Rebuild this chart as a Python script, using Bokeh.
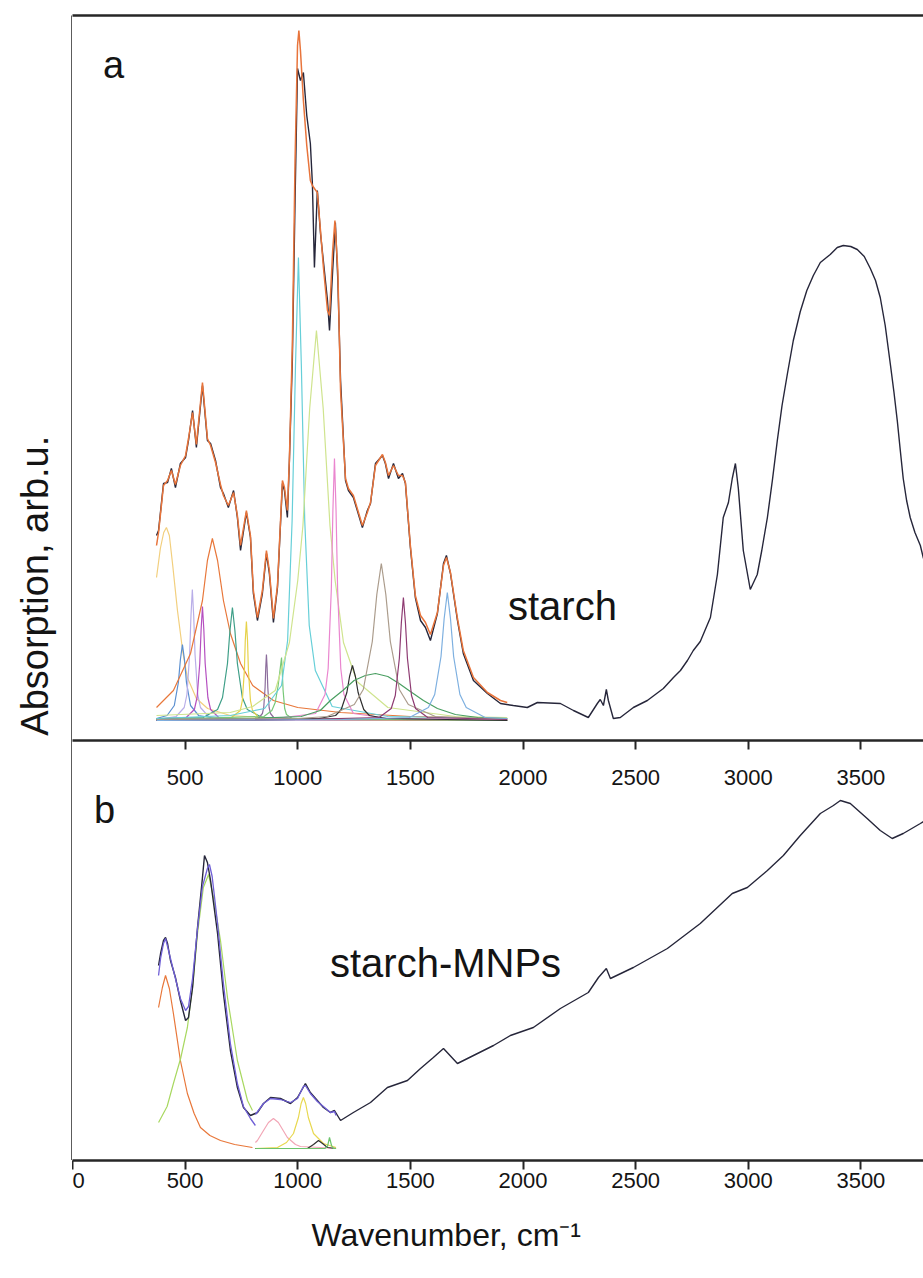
from math import pi
from bokeh.plotting import figure
from bokeh.layouts import row, column
from bokeh.models import Range1d, LinearAxis, FixedTicker, Label, Title
from bokeh.embed import file_html
from bokeh.resources import INLINE

# ---------------- data: panel a (starch) ----------------
a_black_wn = [373, 382, 404, 422, 439, 457, 479, 502, 515, 533, 550, 577, 599, 613, 635, 657, 670, 692, 715, 732,
              746, 772, 790, 803, 821, 843, 861, 874, 892, 910, 932, 941, 954, 963, 976, 988, 999, 1012, 1025, 1040,
              1056, 1065, 1074, 1087, 1101, 1132, 1141, 1155, 1167, 1178, 1190, 1212, 1225, 1247, 1287, 1309, 1323,
              1345, 1376, 1389, 1403, 1425, 1447, 1465, 1478, 1500, 1522, 1545, 1567, 1589, 1620, 1647, 1660, 1678,
              1709, 1735, 1780, 1842, 1900, 1957, 2019, 2064, 2166, 2224, 2290, 2330, 2343, 2357, 2370, 2379, 2401,
              2432, 2490, 2552, 2623, 2668, 2699, 2730, 2756, 2787, 2832, 2863, 2889, 2912, 2929, 2943, 2956, 2978,
              3009, 3040, 3060, 3085, 3107, 3129, 3150, 3174, 3200, 3231, 3260, 3289, 3320, 3364, 3395, 3422, 3455,
              3484, 3515, 3542, 3565, 3586, 3608, 3631, 3647, 3662, 3675, 3688, 3703, 3719, 3740, 3764, 3778]
a_black_ab = [1.85, 1.90, 2.37, 2.38, 2.52, 2.33, 2.57, 2.63, 2.80, 3.10, 2.73, 3.35, 2.80, 2.77, 2.60, 2.33, 2.27,
              2.13, 2.30, 2.03, 1.70, 2.08, 1.83, 1.27, 1.00, 1.27, 1.67, 1.47, 0.98, 1.33, 2.37, 2.30, 2.03, 2.60,
              3.60, 5.20, 6.52, 6.40, 6.48, 6.05, 5.77, 5.37, 4.53, 5.30, 4.87, 4.20, 3.90, 4.50, 4.98, 4.40, 3.40,
              2.40, 2.30, 2.23, 1.93, 2.10, 2.17, 2.57, 2.65, 2.57, 2.42, 2.57, 2.42, 2.47, 2.37, 1.73, 1.23, 1.00,
              0.93, 0.80, 1.07, 1.57, 1.65, 1.47, 1.00, 0.67, 0.40, 0.27, 0.17, 0.15, 0.13, 0.18, 0.17, 0.10, 0.03,
              0.17, 0.21, 0.15, 0.31, 0.20, 0.02, 0.03, 0.13, 0.20, 0.32, 0.43, 0.50, 0.60, 0.70, 0.79, 1.03, 1.46,
              2.03, 2.18, 2.42, 2.57, 2.32, 1.70, 1.31, 1.46, 1.70, 2.03, 2.40, 2.80, 3.15, 3.47, 3.80, 4.09, 4.30,
              4.45, 4.58, 4.66, 4.73, 4.75, 4.74, 4.71, 4.64, 4.52, 4.40, 4.23, 3.95, 3.56, 3.28, 2.99, 2.70, 2.42,
              2.20, 2.03, 1.88, 1.75, 1.62]

a_fit_wn = [373, 382, 404, 422, 439, 457, 479, 502, 515, 533, 550, 577, 599, 613, 635, 657, 670, 692, 715, 732, 746,
            772, 790, 803, 821, 843, 861, 874, 892, 910, 932, 941, 954, 963, 976, 988, 999, 1005, 1012, 1025, 1040,
            1056, 1065, 1074, 1087, 1101, 1114, 1132, 1141, 1155, 1165, 1178, 1190, 1212, 1225, 1247, 1287, 1309,
            1323, 1345, 1376, 1389, 1403, 1425, 1447, 1465, 1478, 1500, 1522, 1545, 1567, 1589, 1620, 1647, 1660,
            1678, 1709, 1735, 1780, 1842, 1900, 1930]
a_fit_ab = [1.75, 1.88, 2.35, 2.40, 2.50, 2.36, 2.55, 2.65, 2.82, 3.08, 2.76, 3.38, 2.82, 2.75, 2.58, 2.36, 2.25,
            2.15, 2.28, 2.05, 1.75, 2.10, 1.85, 1.30, 1.03, 1.30, 1.70, 1.50, 1.02, 1.35, 2.40, 2.33, 2.10, 2.62,
            3.75, 5.60, 6.75, 6.90, 6.70, 6.20, 5.75, 5.40, 5.35, 5.32, 5.28, 4.90, 4.53, 4.10, 4.05, 4.70, 5.00,
            4.50, 3.30, 2.42, 2.32, 2.25, 1.95, 2.08, 2.18, 2.55, 2.66, 2.58, 2.45, 2.55, 2.45, 2.45, 2.38, 1.75,
            1.25, 1.05, 0.98, 0.86, 1.08, 1.55, 1.63, 1.48, 1.02, 0.70, 0.43, 0.28, 0.20, 0.18]

# fitted components, panel a
a_p417_wn = [373, 390, 405, 417, 430, 445, 466, 490, 510, 550, 600, 700, 900, 1300, 1930]
a_p417_ab = [1.43, 1.72, 1.88, 1.93, 1.85, 1.55, 1.10, 0.68, 0.43, 0.22, 0.12, 0.05, 0.02, 0.01, 0.0]
a_p488_wn = [373, 420, 452, 470, 479, 488, 497, 506, 524, 560, 640, 900, 1930]
a_p488_ab = [0.02, 0.05, 0.15, 0.38, 0.61, 0.76, 0.61, 0.38, 0.15, 0.05, 0.02, 0.01, 0.0]
a_p532_wn = [373, 460, 496, 508, 520, 526, 532, 538, 544, 556, 568, 604, 700, 1930]
a_p532_ab = [0.01, 0.04, 0.13, 0.26, 0.66, 1.05, 1.31, 1.05, 0.66, 0.26, 0.13, 0.04, 0.01, 0.0]
a_p577_wn = [373, 505, 541, 553, 565, 571, 577, 583, 589, 601, 613, 649, 750, 1930]
a_p577_ab = [0.01, 0.03, 0.11, 0.23, 0.57, 0.91, 1.14, 0.91, 0.57, 0.23, 0.11, 0.03, 0.01, 0.0]
a_p621_wn = [373, 448, 524, 577, 599, 621, 644, 670, 701, 746, 800, 892, 1000, 1190, 1500, 1930]
a_p621_ab = [0.13, 0.30, 0.67, 1.20, 1.60, 1.82, 1.60, 1.20, 0.87, 0.57, 0.35, 0.20, 0.13, 0.08, 0.04, 0.02]
a_p710_wn = [373, 580, 644, 666, 688, 699, 710, 721, 732, 754, 776, 842, 1000, 1930]
a_p710_ab = [0.02, 0.03, 0.11, 0.23, 0.57, 0.90, 1.13, 0.90, 0.57, 0.23, 0.11, 0.03, 0.02, 0.01]
a_p772_wn = [373, 700, 745, 754, 763, 767, 772, 777, 781, 790, 799, 826, 900, 1930]
a_p772_ab = [0.0, 0.02, 0.10, 0.20, 0.50, 0.80, 0.99, 0.80, 0.50, 0.20, 0.10, 0.03, 0.01, 0.0]
a_p861_wn = [373, 825, 843, 849, 855, 858, 861, 864, 867, 873, 879, 897, 1930]
a_p861_ab = [0.0, 0.02, 0.07, 0.13, 0.33, 0.53, 0.66, 0.53, 0.33, 0.13, 0.07, 0.02, 0.0]
a_p928_wn = [373, 850, 885, 900, 913, 921, 928, 932, 935, 942, 950, 975, 1930]
a_p928_ab = [0.01, 0.04, 0.10, 0.18, 0.35, 0.50, 0.63, 0.45, 0.30, 0.12, 0.06, 0.02, 0.0]
a_p1003_wn = [373, 700, 853, 928, 955, 975, 990, 1003, 1016, 1031, 1051, 1078, 1153, 1400, 1930]
a_p1003_ab = [0.02, 0.05, 0.12, 0.35, 0.80, 2.00, 3.55, 4.63, 3.55, 2.00, 0.95, 0.50, 0.14, 0.04, 0.02]
a_p1083_wn = [373, 700, 800, 900, 963, 1000, 1023, 1053, 1083, 1113, 1143, 1166, 1203, 1263, 1400, 1700, 1930]
a_p1083_ab = [0.05, 0.08, 0.14, 0.30, 0.78, 1.40, 1.95, 3.12, 3.90, 3.12, 1.95, 1.40, 0.78, 0.39, 0.13, 0.04, 0.03]
a_p1163_wn = [373, 900, 1079, 1121, 1135, 1149, 1156, 1163, 1170, 1177, 1191, 1205, 1247, 1400, 1930]
a_p1163_ab = [0.01, 0.02, 0.07, 0.26, 0.52, 1.31, 2.10, 2.62, 2.10, 1.31, 0.52, 0.26, 0.07, 0.02, 0.01]
a_p1243_wn = [373, 1000, 1093, 1168, 1193, 1218, 1230, 1243, 1256, 1268, 1293, 1318, 1393, 1930]
a_p1243_ab = [0.0, 0.01, 0.02, 0.05, 0.11, 0.28, 0.44, 0.55, 0.44, 0.28, 0.11, 0.05, 0.02, 0.0]
a_p1345_wn = [373, 800, 1015, 1100, 1145, 1200, 1250, 1300, 1345, 1400, 1450, 1500, 1558, 1620, 1700, 1800, 1930]
a_p1345_ab = [0.01, 0.02, 0.04, 0.10, 0.20, 0.30, 0.40, 0.45, 0.47, 0.44, 0.37, 0.29, 0.20, 0.12, 0.06, 0.03, 0.02]
a_p1371_wn = [373, 1000, 1131, 1251, 1291, 1331, 1351, 1371, 1391, 1411, 1451, 1491, 1611, 1930]
a_p1371_ab = [0.01, 0.02, 0.04, 0.16, 0.31, 0.79, 1.26, 1.57, 1.26, 0.79, 0.31, 0.16, 0.04, 0.01]
a_p1469_wn = [373, 1000, 1361, 1415, 1433, 1451, 1460, 1469, 1478, 1487, 1505, 1523, 1577, 1930]
a_p1469_ab = [0.0, 0.01, 0.03, 0.12, 0.25, 0.62, 0.98, 1.23, 0.98, 0.62, 0.25, 0.12, 0.03, 0.01]
a_p1664_wn = [373, 1200, 1496, 1580, 1608, 1636, 1650, 1664, 1678, 1692, 1720, 1748, 1832, 1930]
a_p1664_ab = [0.0, 0.01, 0.03, 0.13, 0.26, 0.64, 1.02, 1.28, 1.02, 0.64, 0.26, 0.13, 0.03, 0.02]

# ---------------- data: panel b (starch-MNPs) ----------------
b_black_wn = [382, 391, 404, 413, 422, 435, 457, 479, 502, 515, 533, 555, 577, 586, 599, 613, 644, 670, 701, 732, 759,
              790, 821, 848, 879, 923, 968, 999, 1034, 1056, 1087, 1114, 1145, 1163, 1190, 1247, 1323, 1398, 1487,
              1545, 1602, 1647, 1709, 1798, 1869, 1944, 2046, 2166, 2290, 2335, 2370, 2388, 2490, 2641, 2787, 2929,
              2996, 3085, 3156, 3231, 3320, 3378, 3409, 3453, 3528, 3586, 3639, 3688, 3764, 3778]
b_black_ab = [1.83, 1.95, 2.08, 2.11, 2.05, 1.88, 1.71, 1.48, 1.28, 1.31, 1.61, 2.21, 2.71, 2.93, 2.86, 2.68, 2.15,
              1.55, 0.98, 0.61, 0.41, 0.33, 0.36, 0.45, 0.51, 0.50, 0.45, 0.51, 0.65, 0.56, 0.48, 0.41, 0.36, 0.38,
              0.28, 0.36, 0.46, 0.61, 0.68, 0.80, 0.91, 1.00, 0.85, 0.95, 1.03, 1.13, 1.21, 1.40, 1.56, 1.71, 1.80,
              1.70, 1.81, 2.00, 2.25, 2.55, 2.61, 2.78, 2.93, 3.13, 3.35, 3.43, 3.48, 3.45, 3.30, 3.18, 3.10, 3.15,
              3.25, 3.27]

b_fit1_wn = [382, 391, 404, 413, 422, 435, 457, 479, 502, 515, 533, 555, 577, 599, 608, 620, 644, 670, 701, 732, 759,
             790, 812]
b_fit1_ab = [1.73, 1.90, 2.05, 2.10, 2.02, 1.90, 1.70, 1.50, 1.38, 1.42, 1.70, 2.20, 2.62, 2.80, 2.84, 2.72, 2.25,
             1.65, 1.05, 0.65, 0.42, 0.30, 0.23]
b_fit2_wn = [812, 848, 879, 923, 968, 999, 1025, 1034, 1056, 1087, 1114, 1145, 1163, 1170]
b_fit2_ab = [0.34, 0.45, 0.50, 0.49, 0.46, 0.50, 0.62, 0.63, 0.55, 0.47, 0.42, 0.36, 0.37, 0.33]

b_p413_wn = [382, 399, 413, 430, 448, 479, 510, 540, 568, 610, 657, 720, 799]
b_p413_ab = [1.41, 1.61, 1.73, 1.60, 1.35, 0.88, 0.55, 0.35, 0.21, 0.13, 0.08, 0.04, 0.01]
b_p604_wn = [382, 420, 448, 480, 510, 535, 555, 581, 604, 626, 657, 688, 732, 777, 799]
b_p604_ab = [0.26, 0.42, 0.65, 0.90, 1.21, 1.65, 2.15, 2.61, 2.74, 2.51, 2.08, 1.51, 0.88, 0.48, 0.38]
b_p892_wn = [812, 821, 848, 870, 892, 914, 954, 990, 1012, 1100, 1170]
b_p892_ab = [0.06, 0.08, 0.18, 0.26, 0.30, 0.26, 0.11, 0.04, 0.02, 0.01, 0.0]
b_p1025_wn = [812, 910, 950, 981, 1003, 1015, 1025, 1035, 1047, 1070, 1114, 1170]
b_p1025_ab = [0.0, 0.01, 0.06, 0.15, 0.31, 0.45, 0.51, 0.45, 0.31, 0.15, 0.05, 0.01]
b_p1092_wn = [812, 1043, 1070, 1092, 1110, 1132, 1170]
b_p1092_ab = [0.0, 0.0, 0.04, 0.08, 0.05, 0.01, 0.0]
b_p1141_wn = [812, 1120, 1132, 1141, 1150, 1158, 1170]
b_p1141_ab = [0.0, 0.0, 0.02, 0.11, 0.03, 0.0, 0.0]

tick_values = [0, 500, 1000, 1500, 2000, 2500, 3000, 3500]
mid_tick_values = [500, 1000, 1500, 2000, 2500, 3000, 3500]

# ---------------- styling ----------------
FONT = "Liberation Sans"
AX = "#262626"
TXT = "#141414"
X_END = 3778

a_components = [
    (a_p417_wn, a_p417_ab, "#f2cf7e"), (a_p488_wn, a_p488_ab, "#5b8fd0"),
    (a_p532_wn, a_p532_ab, "#b9aee8"), (a_p577_wn, a_p577_ab, "#b54fc0"),
    (a_p621_wn, a_p621_ab, "#e8773a"), (a_p710_wn, a_p710_ab, "#3f9f88"),
    (a_p772_wn, a_p772_ab, "#e6d24a"), (a_p861_wn, a_p861_ab, "#8c6d9c"),
    (a_p928_wn, a_p928_ab, "#78c878"), (a_p1003_wn, a_p1003_ab, "#66cfd8"),
    (a_p1083_wn, a_p1083_ab, "#cfe48e"), (a_p1163_wn, a_p1163_ab, "#ea86cf"),
    (a_p1243_wn, a_p1243_ab, "#2f2f2f"), (a_p1345_wn, a_p1345_ab, "#4a9f62"),
    (a_p1371_wn, a_p1371_ab, "#ab9c8c"), (a_p1469_wn, a_p1469_ab, "#8e3b72"),
    (a_p1664_wn, a_p1664_ab, "#7eb0e0"),
]
b_components = [
    (b_p413_wn, b_p413_ab, "#e8773a"), (b_p604_wn, b_p604_ab, "#a8d860"),
    (b_p892_wn, b_p892_ab, "#f2a6b6"), (b_p1025_wn, b_p1025_ab, "#e8d850"),
    (b_p1092_wn, b_p1092_ab, "#303030"), (b_p1141_wn, b_p1141_ab, "#6cc46c"),
]


def line_axis():
    return LinearAxis(ticker=FixedTicker(ticks=[], minor_ticks=[]), axis_line_width=2.5, axis_line_color=AX,
                      major_tick_line_color=None, minor_tick_line_color=None,
                      major_label_text_font_size="0px")


def base_fig(fw, fh, xr, yr, **kw):
    f = figure(frame_width=fw, frame_height=fh, x_range=xr, y_range=yr, output_backend="svg",
               toolbar_location=None, x_axis_location=None, y_axis_location=None,
               min_border_left=0, min_border_right=0, **kw)
    f.outline_line_color = None
    f.grid.visible = False
    f.background_fill_color = "white"
    f.border_fill_color = "white"
    return f


xr = Range1d(0, X_END)

# y-label strip carrying the left border line
lf = base_fig(72, 1145, Range1d(0, 1), Range1d(0, 1), min_border_top=15, min_border_bottom=0)
lf.add_layout(line_axis(), "right")
lf.add_layout(Label(x=0.486, y=0.502, text="Absorption, arb.u.", angle=pi / 2, text_align="center",
                    text_baseline="middle", text_font_size="38px", text_font=FONT, text_color=TXT))

# panel a
fa = base_fig(851, 725, xr, Range1d(-0.20, 7.05), min_border_top=15, min_border_bottom=48)
fa.add_layout(line_axis(), "above")
mid_ax = LinearAxis(ticker=FixedTicker(ticks=mid_tick_values, minor_ticks=[]), axis_line_width=2.5,
                    axis_line_color=AX, major_tick_line_color=AX, major_tick_line_width=2,
                    major_tick_out=9, major_tick_in=0, major_label_standoff=20,
                    major_label_text_font_size="22px", major_label_text_font=FONT,
                    major_label_text_color=TXT, minor_tick_line_color=None)
fa.add_layout(mid_ax, "below")
for wn, ab, col in a_components:
    fa.line(wn, ab, line_color=col, line_width=1.2)
fa.line(a_black_wn, a_black_ab, line_color="#26263a", line_width=1.4)
fa.line(a_fit_wn, a_fit_ab, line_color="#e8743b", line_width=1.5)
fa.add_layout(Label(x=182, y=6.56, text="a", text_align="center", text_baseline="middle",
                    text_font_size="38px", text_font=FONT, text_color=TXT))
fa.add_layout(Label(x=2175, y=1.15, text="starch", text_align="center", text_baseline="middle",
                    text_font_size="40px", text_font=FONT, text_color=TXT))

# panel b
fb = base_fig(851, 372, xr, Range1d(-0.12, 3.60), min_border_top=0, min_border_bottom=0)
bot_ax = LinearAxis(ticker=FixedTicker(ticks=tick_values, minor_ticks=[]), axis_line_width=2.5,
                    axis_line_color=AX, major_tick_line_color=AX, major_tick_line_width=2,
                    major_tick_out=9, major_tick_in=0, major_label_standoff=3,
                    major_label_text_font_size="22px", major_label_text_font=FONT,
                    major_label_text_color=TXT, minor_tick_line_color=None)
fb.add_layout(bot_ax, "below")
fb.add_layout(Title(text="Wavenumber, cm\u207b\u00b9", align="left", offset=239, standoff=48,
                    text_font=FONT, text_font_size="32px", text_font_style="normal", text_color=TXT),
              "below")
for wn, ab, col in b_components:
    fb.line(wn, ab, line_color=col, line_width=1.2)
fb.line(b_black_wn, b_black_ab, line_color="#26263a", line_width=1.4)
fb.line(b_fit1_wn, b_fit1_ab, line_color="#6f5fd6", line_width=1.3)
fb.line(b_fit2_wn, b_fit2_ab, line_color="#6f5fd6", line_width=1.3)
fb.add_layout(Label(x=142, y=3.598, text="b", text_align="center", text_baseline="top",
                    text_font_size="38px", text_font=FONT, text_color=TXT))
fb.add_layout(Label(x=1656, y=1.86, text="starch-MNPs", text_align="center", text_baseline="middle",
                    text_font_size="40px", text_font=FONT, text_color=TXT))

layout = row(lf, column(fa, fb))
open("out.html", "w").write(file_html(layout, INLINE))
